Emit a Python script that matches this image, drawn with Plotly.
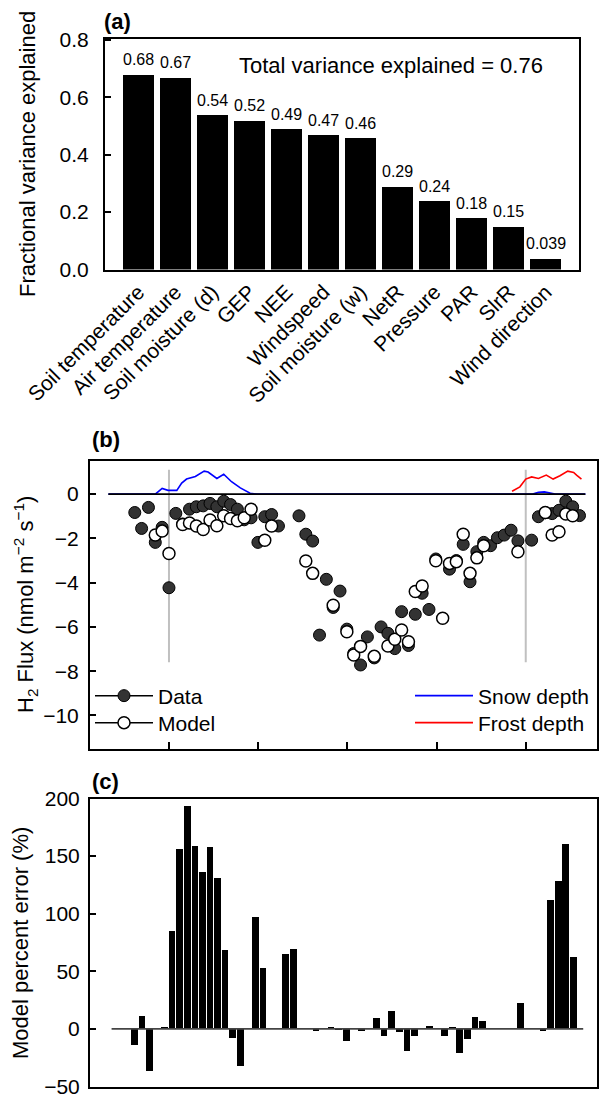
import plotly.graph_objects as go

# ---------------- Panel (a) data ----------------
predictors = ["Soil temperature", "Air temperature", "Soil moisture (d)", "GEP", "NEE",
              "Windspeed", "Soil moisture (w)", "NetR", "Pressure", "PAR", "SlrR",
              "Wind direction"]
variance_explained = [0.68, 0.67, 0.54, 0.52, 0.49, 0.47, 0.46, 0.29, 0.24, 0.18, 0.15, 0.039]
variance_labels = ["0.68", "0.67", "0.54", "0.52", "0.49", "0.47", "0.46", "0.29", "0.24",
                   "0.18", "0.15", "0.039"]
total_variance_text = "Total variance explained = 0.76"

# ---------------- Panel (b) data ----------------
days = [-35, -28, -21, -14, -7, 0, 7, 14, 21, 28, 35, 42, 49, 56, 63, 70, 77, 84, 91, 98,
        105, 112, 133, 140, 147, 154, 161, 168, 175, 182, 189, 196, 203, 210, 217, 224,
        231, 238, 245, 252, 259, 266, 273, 280, 287, 294, 301, 308, 315, 322, 329, 336,
        343, 350, 357, 371, 378, 385, 392, 399, 406, 413, 420]
h2_data = [-0.83, -1.55, -0.60, -2.18, -1.50, -4.23, -0.87, -1.35, -0.68, -0.57, -0.53,
           -0.42, -0.57, -0.32, -0.47, -0.68, -1.16, -1.07, -2.18, -1.02, -0.92, -1.44,
           -0.98, -1.81, -2.12, -6.37, -3.85, -5.12, -4.38, -6.10, -7.20, -7.72, -6.45,
           -7.40, -6.00, -6.29, -6.98, -5.31, -6.84, -5.43, -4.48, -5.21, -2.93, None,
           -3.39, -3.00, -2.27, -3.96, -2.60, -2.18, -2.33, -1.97, -1.85, -1.63, -2.11,
           -2.08, -1.02, -0.84, -0.88, -0.73, -0.32, -0.57, -0.97]
h2_model = [None, None, None, -1.85, -1.67, -2.68, None, -1.37, -1.30, -1.44, -1.60,
            -1.17, -1.43, -0.98, -1.10, -1.20, -1.07, -0.68, None, -2.08, -1.44, None,
            None, -3.02, -3.58, None, None, -5.02, None, -6.22, -7.27, -6.88, None,
            -7.33, None, -6.86, -6.56, -6.14, -6.67, -4.40, -4.15, None, -3.01, -5.61,
            -3.13, -3.05, -1.81, -3.58, -2.88, -2.33, None, None, None, None, -2.60,
            None, None, -0.83, -1.85, -1.70, -0.90, -0.98, None]
snow_days = [-62, -14, -7, -1, 8, 13, 18, 27, 36, 40, 49, 56, 64, 73, 83, 90, 372, 378,
             384, 390, 395, 426]
snow_depth = [0, 0, 0.26, 0.17, 0.17, 0.50, 0.68, 0.80, 1.04, 1.00, 0.71, 0.90, 0.56,
              0.28, 0.04, 0, 0, 0.08, 0.10, 0.06, 0, 0]
frost_days = [351, 359, 365, 371, 378, 386, 393, 400, 408, 414, 417, 422]
frost_depth = [0.13, 0.33, 0.68, 0.78, 0.71, 0.86, 0.68, 0.83, 1.04, 0.98, 0.86, 0.68]
winter_marks = [0, 365]
quarter_ticks = [0, 91.25, 182.5, 273.75, 365]
flux_ticks = [-10, -8, -6, -4, -2, 0]

# ---------------- Panel (c) data ----------------
pct_error = [-13.5, 11.8, -36, None, 2, 85, 157, 194, 159, 137, 158, 131, 69, -7.5, -32,
             None, 98, 53, None, None, 65.5, 70, None, None, -1.5, None, 2, 1, -10, None,
             -1, None, 9.5, -6, 16, -2.5, -19, -6, None, 3, None, -6, 2, -20.5, -8.5, 11,
             7.7, None, None, None, None, 23, None, None, -1.5, 112, 128.7, 160.6, 63]
error_ticks = [-50, 0, 50, 100, 150, 200]

W, H = 603, 1098
FONT = "Liberation Sans, Arial, Helvetica, sans-serif"


def px(x):
    return x / W


def py(y):
    return 1 - y / H


fig = go.Figure()

# Panel (a)
fig.add_trace(go.Bar(x=list(range(len(predictors))), y=variance_explained, width=0.85,
                     marker=dict(color="black", line=dict(width=0)),
                     xaxis="x", yaxis="y", showlegend=False))

# Panel (b)
fig.add_trace(go.Scatter(x=snow_days, y=snow_depth, mode="lines",
                         line=dict(color="#0000ff", width=1.6),
                         xaxis="x2", yaxis="y2", showlegend=False))
fig.add_trace(go.Scatter(x=[snow_days[0], snow_days[-1]], y=[0, 0], mode="lines",
                         line=dict(color="black", width=1.6),
                         xaxis="x2", yaxis="y2", showlegend=False))
fig.add_trace(go.Scatter(x=frost_days, y=frost_depth, mode="lines",
                         line=dict(color="#ff0000", width=1.6),
                         xaxis="x2", yaxis="y2", showlegend=False))
fig.add_trace(go.Scatter(x=days, y=h2_data, mode="markers",
                         marker=dict(size=12, color="#333333", line=dict(color="black", width=1)),
                         xaxis="x2", yaxis="y2", showlegend=False))
fig.add_trace(go.Scatter(x=days, y=h2_model, mode="markers",
                         marker=dict(size=12, color="white", line=dict(color="black", width=1.5)),
                         xaxis="x2", yaxis="y2", showlegend=False))

# legend entries (one legend per row for exact placement)
fig.add_trace(go.Scatter(x=[None], y=[None], mode="lines+markers", name="Data",
                         line=dict(color="black", width=1.5),
                         marker=dict(size=12, color="#333333", line=dict(color="black", width=1)),
                         xaxis="x2", yaxis="y2", legend="legend"))
fig.add_trace(go.Scatter(x=[None], y=[None], mode="lines+markers", name="Model",
                         line=dict(color="black", width=1.5),
                         marker=dict(size=12, color="white", line=dict(color="black", width=1.5)),
                         xaxis="x2", yaxis="y2", legend="legend2"))
fig.add_trace(go.Scatter(x=[None], y=[None], mode="lines", name="Snow depth",
                         line=dict(color="#0000ff", width=1.6),
                         xaxis="x2", yaxis="y2", legend="legend3"))
fig.add_trace(go.Scatter(x=[None], y=[None], mode="lines", name="Frost depth",
                         line=dict(color="#ff0000", width=1.6),
                         xaxis="x2", yaxis="y2", legend="legend4"))

# Panel (c)
fig.add_trace(go.Bar(x=list(range(len(pct_error))), y=pct_error, width=0.88,
                     marker=dict(color="black", line=dict(width=0)),
                     xaxis="x3", yaxis="y3", showlegend=False))

shapes = []
for d in winter_marks:
    shapes.append(dict(type="line", xref="x2", yref="y2", x0=d, x1=d, y0=-7.6, y1=1.1,
                       line=dict(color="#c0c0c0", width=2), layer="below"))
shapes.append(dict(type="line", xref="x3", yref="y3", x0=-3.0, x1=59.3, y0=0, y1=0,
                   line=dict(color="#444444", width=1.6), layer="above"))

annotations = []
for i, (v, lbl) in enumerate(zip(variance_explained, variance_labels)):
    annotations.append(dict(x=i, y=v, xref="x", yref="y", text=lbl, showarrow=False,
                            yanchor="bottom", yshift=4, font=dict(size=16)))
annotations.append(dict(x=px(237), y=py(66), xref="paper", yref="paper",
                        text=total_variance_text, showarrow=False, xanchor="left",
                        yanchor="middle", font=dict(size=22)))
for lab, xx, yy in [("(a)", 102, 22), ("(b)", 90, 440), ("(c)", 90, 781)]:
    annotations.append(dict(x=px(xx), y=py(yy), xref="paper", yref="paper",
                            text="<b>%s</b>" % lab, showarrow=False, xanchor="left",
                            yanchor="middle", font=dict(size=22)))
for txt, xx, yy in [("Fractional variance explained", 27, 154),
                    ("H<sub>2</sub> Flux (nmol m<sup>\u22122</sup> s<sup>\u22121</sup>)", 25, 605),
                    ("Model percent error (%)", 20, 943)]:
    annotations.append(dict(x=px(xx), y=py(yy), xref="paper", yref="paper", text=txt,
                            showarrow=False, textangle=-90, xanchor="center",
                            yanchor="middle", font=dict(size=22)))

axis_common = dict(showline=True, linecolor="black", linewidth=2, mirror=True,
                   showgrid=False, zeroline=False, automargin=False)

legend_common = dict(xanchor="left", yanchor="middle", bgcolor="rgba(0,0,0,0)",
                     font=dict(size=21), itemwidth=58, tracegroupgap=0)

fig.update_layout(
    template="none",
    width=W, height=H, margin=dict(l=0, r=0, t=0, b=0, autoexpand=False),
    paper_bgcolor="white", plot_bgcolor="white",
    font=dict(family=FONT, size=21, color="black"),
    bargap=0,
    xaxis=dict(domain=[px(105), px(579)], range=[-0.9, 11.9], anchor="y",
               tickmode="array", tickvals=list(range(len(predictors))), ticktext=predictors,
               tickangle=-45, ticks="", tickfont=dict(size=21), **axis_common),
    yaxis=dict(domain=[py(269.5), py(38.5)], range=[0, 0.805], anchor="x",
               tickvals=[0, 0.2, 0.4, 0.6, 0.8], tickformat=".1f", ticks="inside",
               ticklen=6, tickwidth=2, tickcolor="black", ticklabelstandoff=10,
               tickfont=dict(size=21), **axis_common),
    xaxis2=dict(domain=[px(90), px(597)], range=[-80.8, 437.9], anchor="y2",
                tickvals=quarter_ticks, showticklabels=False, ticks="inside", ticklen=7,
                tickwidth=1.5, tickcolor="black", **axis_common),
    yaxis2=dict(domain=[py(749.3), py(460.5)], range=[-11.53, 1.52], anchor="x2",
                tickvals=flux_ticks, ticks="inside", ticklen=6, tickwidth=2,
                tickcolor="black", ticklabelstandoff=5, tickfont=dict(size=21),
                **axis_common),
    xaxis3=dict(domain=[px(90), px(597)], range=[-5.85, 61.12], anchor="y3",
                showticklabels=False, ticks="", **axis_common),
    yaxis3=dict(domain=[py(1086.5), py(798.5)], range=[-50, 200], anchor="x3",
                tickvals=error_ticks, ticks="inside", ticklen=6, tickwidth=2,
                tickcolor="black", ticklabelstandoff=4, ticklabeloverflow="allow",
                tickfont=dict(size=21), **axis_common),
    legend=dict(x=px(90), y=py(696), **legend_common),
    legend2=dict(x=px(90), y=py(723), **legend_common),
    legend3=dict(x=px(410), y=py(696), **legend_common),
    legend4=dict(x=px(410), y=py(723), **legend_common),
    shapes=shapes, annotations=annotations,
)

fig.write_html("out.html")
